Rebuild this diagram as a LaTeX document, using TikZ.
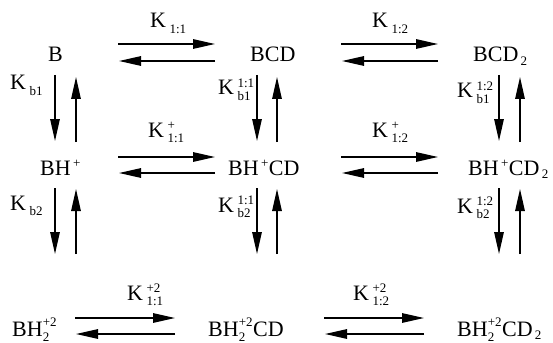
\documentclass[tikz,border=0pt]{standalone}
\usepackage{amsmath}
\usepackage{fontspec}
\setmainfont{Liberation Serif}
\DeclareMathSizes{22}{22}{13}{10}
\usetikzlibrary{arrows.meta}
\newcommand\tx[1]{\text{#1}}
\newcommand\Kc[2]{\tx{K}\mkern3mu{}^{\tx{#1}}_{\tx{#2}}}
\begin{document}
\begin{tikzpicture}[x=1pt,y=-1pt,
  lbl/.style={inner sep=0pt,anchor=base west,font=\fontsize{22}{26}\selectfont},
  arr/.style={line width=1.4pt,-{Triangle[length=22pt,width=9.5pt]}}]
\useasboundingbox (0,0) rectangle (553,342);
% species
\node[lbl] (b)   at (48,62)  {B};
\node[lbl] (bcd) at (250,62) {BCD};
\node[lbl] (bcd2) at (473,62) {$\tx{BCD}\mkern2mu_{\tx{2}}$};
\node[lbl] (bh)   at (40,175)  {$\tx{BH}\mkern2mu^{\tx{+}}$};
\node[lbl] (bhcd) at (228,175) {$\tx{BH}\mkern2mu^{\tx{+}}\tx{CD}$};
\node[lbl] (bhcd2) at (468,175) {$\tx{BH}\mkern2mu^{\tx{+}}\tx{CD}\mkern2mu_{\tx{2}}$};
\node[lbl] (bh2)   at (12,336)  {$\tx{BH}_{\tx{2}}^{\tx{+2}}$};
\node[lbl] (bh2cd) at (208,336) {$\tx{BH}_{\tx{2}}^{\tx{+2}}\tx{CD}$};
\node[lbl] (bh2cd2) at (457,336) {$\tx{BH}_{\tx{2}}^{\tx{+2}}\tx{CD}\mkern2mu_{\tx{2}}$};
% constants, horizontal
\node[lbl] (k11)  at (150,28)  {$\Kc{}{1:1}$};
\node[lbl] (k12)  at (372,28)  {$\Kc{}{1:2}$};
\node[lbl] (k11p) at (148,137) {$\Kc{+}{1:1}$};
\node[lbl] (k12p) at (372,137) {$\Kc{+}{1:2}$};
\node[lbl] (k11pp) at (127,300) {$\Kc{+2}{1:1}$};
\node[lbl] (k12pp) at (353,300) {$\Kc{+2}{1:2}$};
% constants, vertical
\node[lbl] (kb1)   at (10,90)   {$\Kc{}{b1}$};
\node[lbl] (kb2)   at (10,210)  {$\Kc{}{b2}$};
\node[lbl] (kb111) at (218,95)  {$\Kc{1:1}{b1}$};
\node[lbl] (kb211) at (218,212) {$\Kc{1:1}{b2}$};
\node[lbl] (kb112) at (457,98)  {$\Kc{1:2}{b1}$};
\node[lbl] (kb212) at (457,213) {$\Kc{1:2}{b2}$};
% arrow end points
\foreach \r/\yt/\yb in {1/44/61, 2/157/173} {
  \coordinate (hA\r a) at (118,\yt); \coordinate (hA\r b) at (215,\yt);
  \coordinate (hA\r c) at (215,\yb); \coordinate (hA\r d) at (119,\yb);
  \coordinate (hB\r a) at (341,\yt); \coordinate (hB\r b) at (438,\yt);
  \coordinate (hB\r c) at (438,\yb); \coordinate (hB\r d) at (342,\yb);
}
\coordinate (hA3a) at (75,318);  \coordinate (hA3b) at (175,318);
\coordinate (hA3c) at (175,334); \coordinate (hA3d) at (76,334);
\coordinate (hB3a) at (324,318); \coordinate (hB3b) at (424,318);
\coordinate (hB3c) at (424,334); \coordinate (hB3d) at (325,334);
\foreach \c/\xd/\xu in {1/55/76, 2/257/277, 3/499/520} {
  \coordinate (v1\c a) at (\xd,75);  \coordinate (v1\c b) at (\xd,141);
  \coordinate (v1\c c) at (\xu,142); \coordinate (v1\c d) at (\xu,77);
  \coordinate (v2\c a) at (\xd,188); \coordinate (v2\c b) at (\xd,254);
  \coordinate (v2\c c) at (\xu,254); \coordinate (v2\c d) at (\xu,189);
}
% arrows
\foreach \r in {1,2,3} {
  \draw[arr] (hA\r a) -- (hA\r b);
  \draw[arr] (hA\r c) -- (hA\r d);
  \draw[arr] (hB\r a) -- (hB\r b);
  \draw[arr] (hB\r c) -- (hB\r d);
}
\foreach \r in {1,2} {
  \foreach \c in {1,2,3} {
    \draw[arr] (v\r\c a) -- (v\r\c b);
    \draw[arr] (v\r\c c) -- (v\r\c d);
  }
}
\end{tikzpicture}
\end{document}
